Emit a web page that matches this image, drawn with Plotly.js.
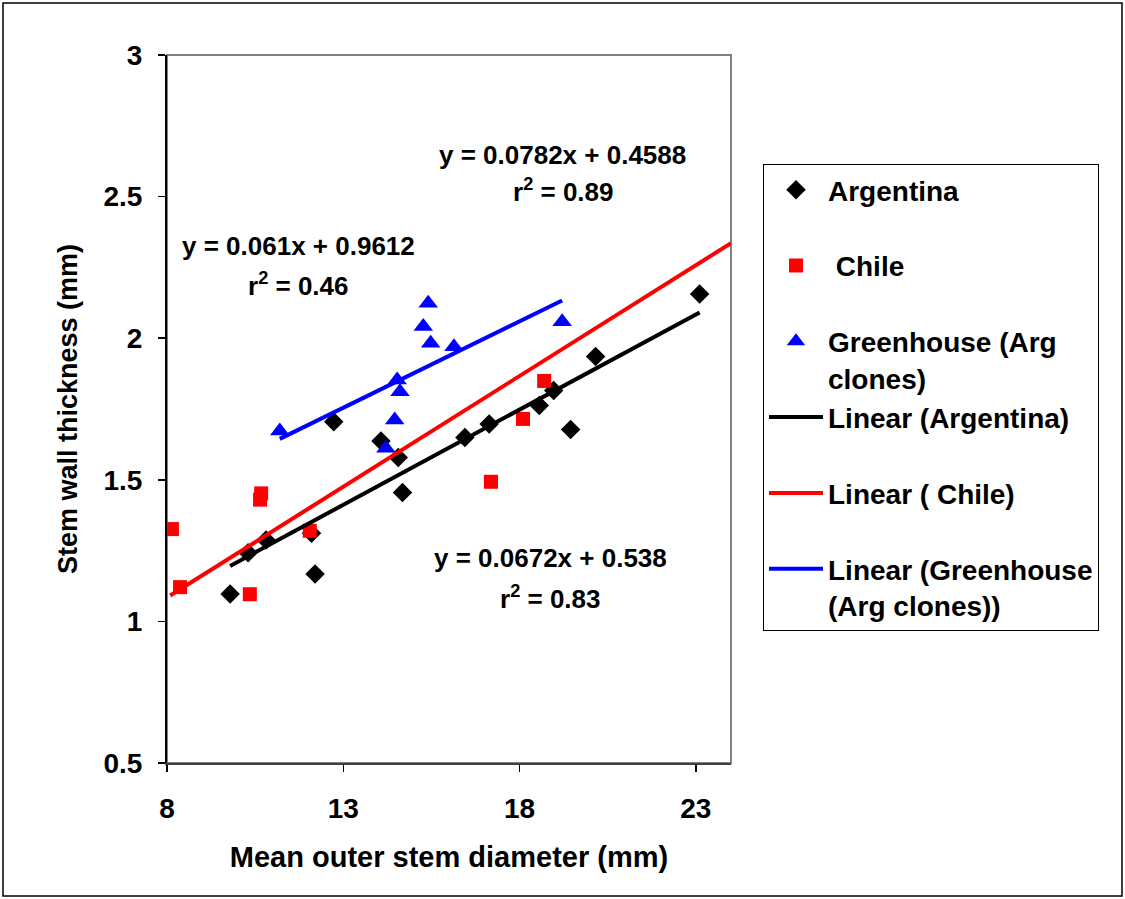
<!DOCTYPE html>
<html>
<head>
<meta charset="utf-8">
<script src="https://cdn.plot.ly/plotly-3.0.1.min.js"></script>
<style>html,body{margin:0;padding:0;background:#fff;}#chart{width:1125px;height:899px;}
#chart .xtick text, #chart .ytick text{font-weight:bold !important;}</style>
</head>
<body>
<div id="chart"></div>
<script>
// ---- data ----
const argX = [9.79, 10.30, 10.81, 12.10, 12.20, 12.73, 14.07, 14.56, 14.68, 16.45, 17.14, 18.56, 18.97, 19.45, 20.16, 23.11];
const argY = [1.097, 1.242, 1.287, 1.311, 1.167, 1.705, 1.637, 1.579, 1.455, 1.649, 1.697, 1.762, 1.815, 1.678, 1.935, 2.156];

const chileX = [8.14, 8.37, 10.35, 10.67, 10.64, 12.05, 17.19, 18.10, 18.70];
const chileY = [1.326, 1.121, 1.096, 1.452, 1.430, 1.320, 1.493, 1.715, 1.849];

const ghX = [11.20, 14.53, 14.61, 14.46, 14.21, 15.41, 15.27, 15.48, 16.14, 19.21];
const ghY = [1.672, 1.852, 1.811, 1.711, 1.611, 2.123, 2.041, 1.982, 1.970, 2.058];

// trendline coefficients as printed on the chart
const argFit = {slope: 0.0672, intercept: 0.538, r2: 0.83};
const chileFit = {slope: 0.0782, intercept: 0.4588, r2: 0.89};
const ghFit = {slope: 0.061, intercept: 0.9612, r2: 0.46};

const seriesNames = ["Argentina", "\u00a0Chile", "Greenhouse (Arg<br>clones)",
  "Linear (Argentina)", "Linear (\u00a0Chile)", "Linear (Greenhouse<br>(Arg clones))"];

const xTickVals = [8, 13, 18, 23];
const yTickVals = [0.5, 1, 1.5, 2, 2.5, 3];
const xRange = [8, 24];
const yRange = [0.5, 3];

// ---- helpers ----
function fitLine(fit, x0, x1) {
  return {x: [x0, x1], y: [fit.slope * x0 + fit.intercept, fit.slope * x1 + fit.intercept]};
}
function eqText(fit) {
  return "y = " + fit.slope + "x + " + fit.intercept;
}
function r2Text(fit) {
  return "r<sup>2</sup> = " + fit.r2;
}
function pad2(s) { return "<b>" + (s.indexOf("<br>") >= 0 ? s : s + "<br>\u00a0") + "</b>"; }
function bold(v) { return "<b>" + v + "</b>"; }

const argLine = fitLine(argFit, Math.min(...argX), Math.max(...argX));
const chileLine = fitLine(chileFit, Math.min(...chileX) - 0.05, xRange[1]);
const ghLine = fitLine(ghFit, Math.min(...ghX), Math.max(...ghX));

const traces = [
  {x: argX, y: argY, type: "scatter", mode: "markers", name: pad2(seriesNames[0]), legendgroup: "a",
   marker: {symbol: "diamond", size: 15, color: "#000000"}},
  {x: chileX, y: chileY, type: "scatter", mode: "markers", name: pad2(seriesNames[1]), legendgroup: "b",
   marker: {symbol: "square", size: 14, color: "#ff0000"}},
  {x: ghX, y: ghY, type: "scatter", mode: "markers", name: pad2(seriesNames[2]), legendgroup: "c",
   marker: {symbol: "triangle-up", size: 17, color: "#0000ff"}},
  {x: argLine.x, y: argLine.y, type: "scatter", mode: "lines", name: pad2(seriesNames[3]), legendgroup: "d",
   line: {color: "#000000", width: 4}},
  {x: chileLine.x, y: chileLine.y, type: "scatter", mode: "lines", name: pad2(seriesNames[4]), legendgroup: "e",
   line: {color: "#ff0000", width: 4}},
  {x: ghLine.x, y: ghLine.y, type: "scatter", mode: "lines", name: pad2(seriesNames[5]), legendgroup: "f",
   line: {color: "#0000ff", width: 4}}
];

const FONT = "Liberation Sans, Arial, sans-serif";
const annFont = {family: FONT, size: 26, color: "#000"};

function ann(x, y, text) {
  return {x: x, y: y, xref: "x", yref: "y", text: "<b>" + text + "</b>", showarrow: false,
          font: annFont, xanchor: "center", yanchor: "middle"};
}

const layout = {
  width: 1125, height: 899,
  margin: {l: 167, r: 394, t: 55, b: 136},
  paper_bgcolor: "#ffffff", plot_bgcolor: "#ffffff",
  font: {family: FONT, color: "#000"},
  showlegend: true,
  xaxis: {
    range: xRange, tickvals: xTickVals, ticktext: xTickVals.map(bold),
    ticks: "outside", ticklen: 7, tickwidth: 1.5, tickcolor: "#000",
    showgrid: false, zeroline: false,
    showline: true, linecolor: "#404040", linewidth: 2,
    tickfont: {family: FONT, size: 28, color: "#000", weight: 700},
    ticklabelstandoff: 12,
    title: {text: "<b>Mean outer stem diameter (mm)</b>", font: {family: FONT, size: 29, color: "#000"}, standoff: 24}
  },
  yaxis: {
    range: yRange, tickvals: yTickVals, ticktext: yTickVals.map(bold),
    ticks: "outside", ticklen: 7, tickwidth: 1.5, tickcolor: "#000",
    showgrid: false, zeroline: false,
    showline: true, linecolor: "#000000", linewidth: 2,
    tickfont: {family: FONT, size: 28, color: "#000", weight: 700},
    ticklabelstandoff: 10,
    title: {text: "<b>Stem wall thickness (mm)</b>", font: {family: FONT, size: 27, color: "#000"}, standoff: 18}
  },
  legend: {
    x: (763 - 167) / 564, y: (766 - 167) / 708, xanchor: "left", yanchor: "top",
    bordercolor: "#000", borderwidth: 1, bgcolor: "#fff",
    font: {family: FONT, size: 28, color: "#000"},
    itemwidth: 54, tracegroupgap: 0, valign: "top", traceorder: "normal"
  },
  shapes: [
    {type: "rect", xref: "paper", yref: "paper", x0: 0, x1: 1, y0: 0, y1: 1,
     line: {color: "#808080", width: 2}, layer: "below"},
    {type: "rect", xref: "paper", yref: "paper", x0: (3 - 167) / 564, x1: (1122 - 167) / 564,
     y0: (763 - 896) / 708, y1: (763 - 3) / 708, line: {color: "#000", width: 1.5}}
  ],
  annotations: [
    ann(19.23, 2.647, eqText(chileFit)),
    ann(19.23, 2.522, r2Text(chileFit)),
    ann(11.72, 2.326, eqText(ghFit)),
    ann(11.72, 2.190, r2Text(ghFit)),
    ann(18.87, 1.224, eqText(argFit)),
    ann(18.87, 1.085, r2Text(argFit))
  ]
};

Plotly.newPlot("chart", traces, layout, {displayModeBar: false, staticPlot: true});
</script>
</body>
</html>
